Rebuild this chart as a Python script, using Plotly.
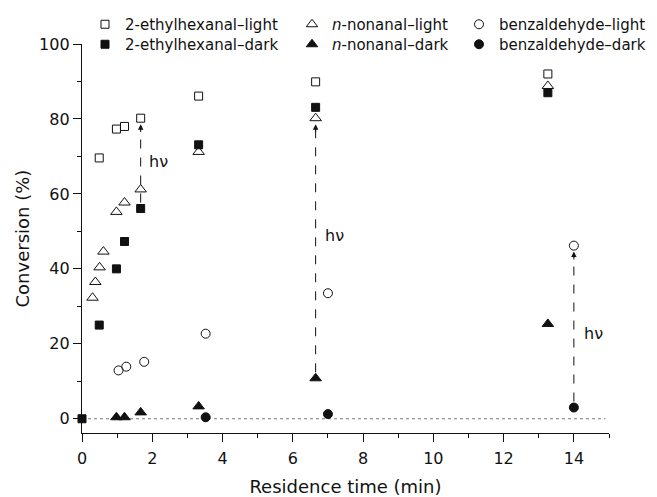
import plotly.graph_objects as go

# ---- data ----
eh_light_x = [0.49, 0.98, 1.21, 1.67, 3.32, 6.65, 13.26]
eh_light_y = [69.6, 77.3, 78.0, 80.2, 86.1, 89.9, 92.0]
eh_dark_x = [0.0, 0.49, 0.98, 1.21, 1.67, 3.32, 6.65, 13.26]
eh_dark_y = [0.0, 25.0, 40.0, 47.3, 56.1, 73.1, 83.1, 87.0]

nn_light_x = [0.30, 0.38, 0.50, 0.61, 0.98, 1.21, 1.67, 3.32, 6.65, 13.26]
nn_light_y = [32.3, 36.5, 40.4, 44.6, 55.2, 57.7, 61.2, 71.2, 80.2, 88.8]
nn_dark_x = [0.98, 1.21, 1.67, 3.32, 6.65, 13.26]
nn_dark_y = [0.4, 0.4, 1.7, 3.3, 10.8, 25.3]

bz_light_x = [1.04, 1.26, 1.77, 3.52, 7.0, 14.0]
bz_light_y = [12.9, 13.9, 15.2, 22.7, 33.5, 46.2]
bz_dark_x = [3.52, 7.0, 14.0]
bz_dark_y = [0.4, 1.25, 3.0]

x_ticks = [0, 2, 4, 6, 8, 10, 12, 14]
y_ticks = [0, 20, 40, 60, 80, 100]

# hv arrows: (x, dark value, light value) taken from the series above
hv_arrows = [
    (eh_dark_x[4], eh_dark_y[4], eh_light_y[3]),
    (nn_dark_x[4], nn_dark_y[4], nn_light_y[8]),
    (bz_dark_x[2], bz_dark_y[2], bz_light_y[5]),
]

FONT = "DejaVu Sans"
BLACK = "#111111"

fig = go.Figure()

def add(x, y, name, symbol, size, legend):
    fig.add_trace(go.Scatter(
        x=x, y=y, mode="markers", name=name, legend=legend,
        marker=dict(symbol=symbol, size=size, color=BLACK,
                    line=dict(color=BLACK, width=1)),
        cliponaxis=False,
    ))

add(eh_light_x, eh_light_y, "2-ethylhexanal–light", "square-open", 8, "legend")
add(eh_dark_x, eh_dark_y, "2-ethylhexanal–dark", "square", 8, "legend4")
add(nn_light_x, nn_light_y, "<i>n</i>-nonanal–light", "triangle-up-open", 10, "legend2")
add(nn_dark_x, nn_dark_y, "<i>n</i>-nonanal–dark", "triangle-up", 10, "legend5")
add(bz_light_x, bz_light_y, "benzaldehyde–light", "circle-open", 9, "legend3")
add(bz_dark_x, bz_dark_y, "benzaldehyde–dark", "circle", 9, "legend6")

shapes = [dict(type="line", xref="x", yref="y", x0=0, x1=14.9, y0=0, y1=0,
               line=dict(color="#777777", width=1, dash="dot"), layer="below")]
annotations = []
gap = 1.6
label_shift = [6, 7, 8]
label_y = [68.6, 49.0, 22.7]
for i, (xv, y0, y1) in enumerate(hv_arrows):
    top = y1 - gap
    shapes.append(dict(type="line", xref="x", yref="y", x0=xv, x1=xv,
                       y0=y0 + gap, y1=top - 1.0,
                       line=dict(color=BLACK, width=1, dash="dash")))
    annotations.append(dict(x=xv, y=top, ax=xv, ay=top - 2.5, xref="x", yref="y",
                            axref="x", ayref="y", text="", showarrow=True,
                            arrowhead=2, arrowsize=1.1, arrowwidth=1,
                            arrowcolor=BLACK))
    annotations.append(dict(x=xv, y=label_y[i], xref="x", yref="y", text="hν",
                            showarrow=False, xanchor="left", yanchor="middle",
                            xshift=label_shift[i],
                            font=dict(family=FONT, size=16, color=BLACK)))

# y-axis title
annotations.append(dict(text="Conversion (%)", xref="paper", yref="paper",
                        x=-0.112, y=0.5, xanchor="center", yanchor="middle",
                        textangle=-90, showarrow=False,
                        font=dict(family=FONT, size=18, color=BLACK)))

# page body adds an 8px offset, so the figure is 8px smaller than the window
W, H = 649, 489
leg_common = dict(orientation="v", xref="container", yref="container",
                  yanchor="top", xanchor="left", bgcolor="rgba(0,0,0,0)",
                  font=dict(family=FONT, size=15, color=BLACK),
                  tracegroupgap=0, itemsizing="trace")
col_x = [77, 284, 451]
row_top = [-2, 20]

fig.update_layout(
    width=W, height=H,
    margin=dict(l=74, r=48, t=36, b=64, autoexpand=False),
    paper_bgcolor="white", plot_bgcolor="white",
    showlegend=True,
    legend=dict(x=col_x[0] / W, y=1 - row_top[0] / H, **leg_common),
    legend2=dict(x=col_x[1] / W, y=1 - row_top[0] / H, **leg_common),
    legend3=dict(x=col_x[2] / W, y=1 - row_top[0] / H, **leg_common),
    legend4=dict(x=col_x[0] / W, y=1 - row_top[1] / H, **leg_common),
    legend5=dict(x=col_x[1] / W, y=1 - row_top[1] / H, **leg_common),
    legend6=dict(x=col_x[2] / W, y=1 - row_top[1] / H, **leg_common),
    shapes=shapes, annotations=annotations,
    font=dict(family=FONT, size=16, color=BLACK),
)

fig.update_xaxes(
    range=[0, 15], tickvals=x_ticks, showgrid=False, zeroline=False,
    showline=True, linecolor=BLACK, linewidth=1.3,
    ticks="outside", ticklen=8, tickwidth=1.3, tickcolor=BLACK,
    ticklabelstandoff=3,
    minor=dict(dtick=1, ticks="outside", ticklen=4, tickwidth=1.3, tickcolor=BLACK),
    tickfont=dict(family=FONT, size=16, color=BLACK),
    title=dict(text="Residence time (min)", font=dict(family=FONT, size=18, color=BLACK),
               standoff=14),
)
fig.update_yaxes(
    range=[-3.8, 100], tickvals=y_ticks, showgrid=False, zeroline=False,
    showline=True, linecolor=BLACK, linewidth=1.3,
    ticks="outside", ticklen=8, tickwidth=1.3, tickcolor=BLACK,
    minor=dict(tick0=10, dtick=20, ticks="outside", ticklen=4, tickwidth=1.3, tickcolor=BLACK),
    tickfont=dict(family=FONT, size=16, color=BLACK),
)

fig.write_html("out.html")
